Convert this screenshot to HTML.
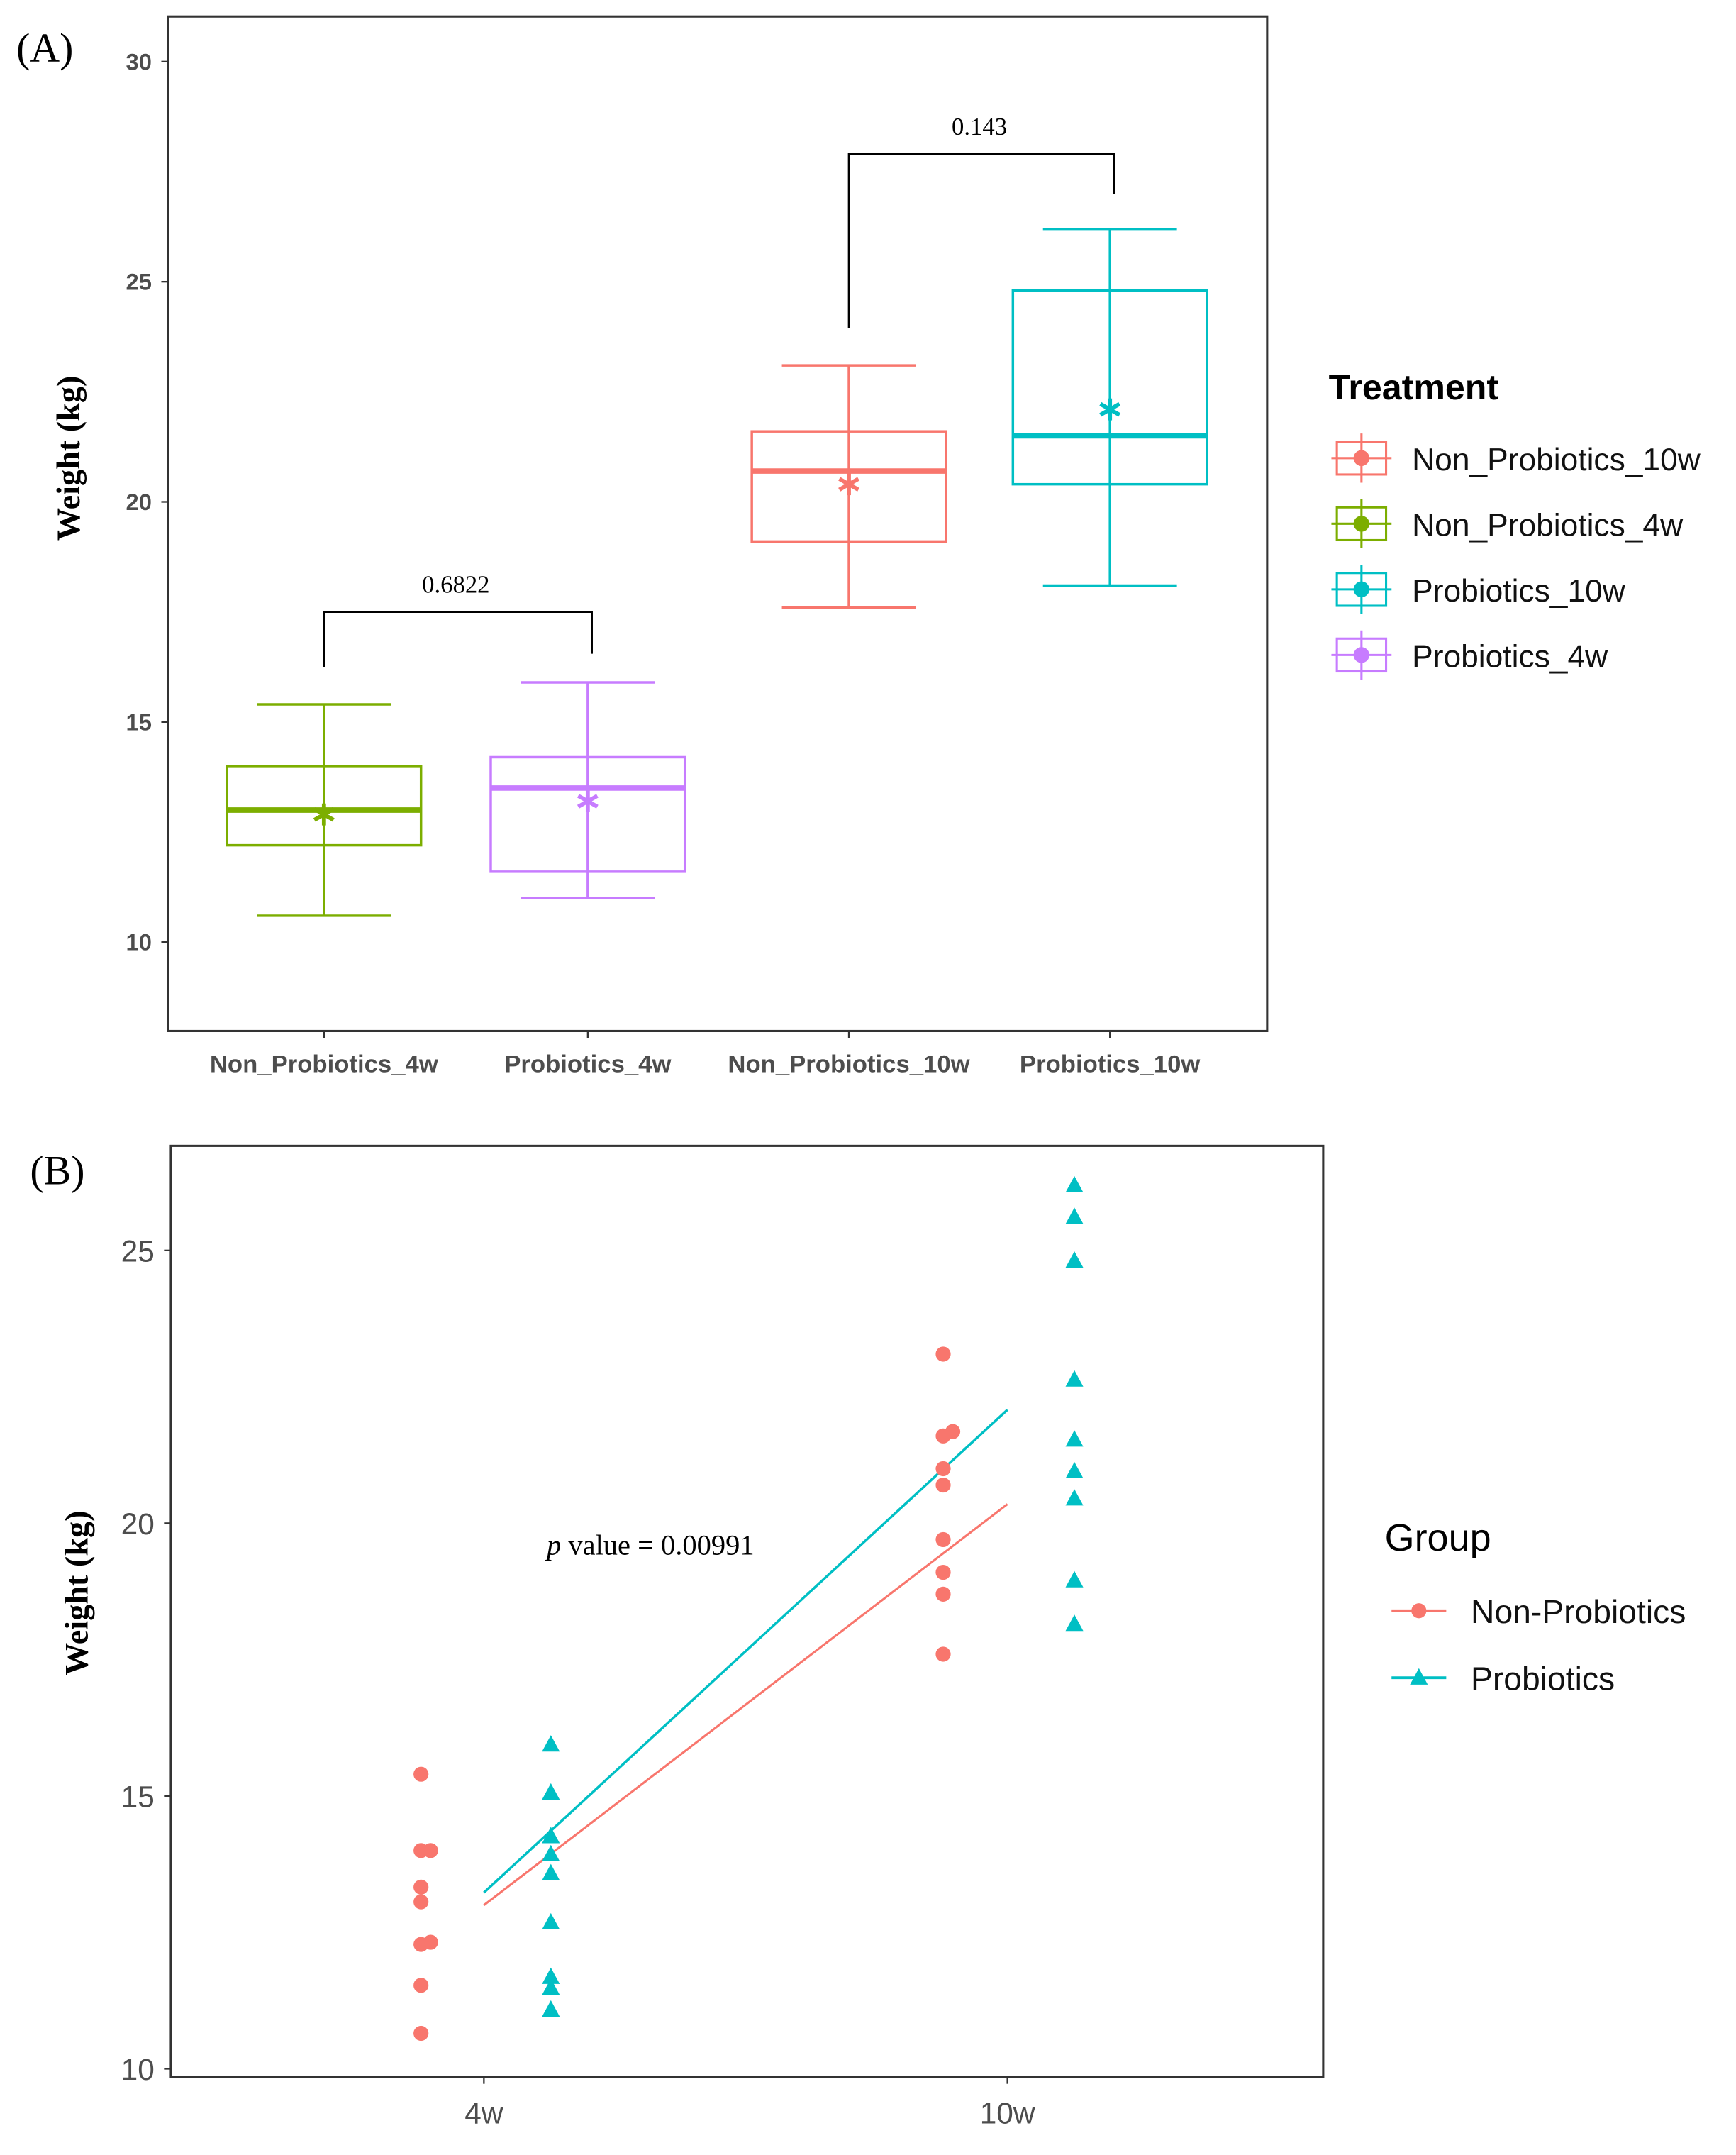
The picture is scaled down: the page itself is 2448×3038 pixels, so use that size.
<!DOCTYPE html>
<html><head><meta charset="utf-8"><style>
html,body{margin:0;padding:0;background:#fff;}
svg{display:block;}
</style></head><body>
<svg id="fig" xmlns="http://www.w3.org/2000/svg" width="2448" height="3038" viewBox="0 0 1270 1576" font-family="Liberation Sans, sans-serif">
<rect x="0" y="0" width="1270" height="1576" fill="#fff"/>
<g id="pa"></g>
<g id="pb"></g>
</svg>
<script>
// ---- Panel A data ----
const catsA = ["Non_Probiotics_4w","Probiotics_4w","Non_Probiotics_10w","Probiotics_10w"];
const colorsA = ["#7CAE00","#C77CFF","#F8766D","#00BFC4"];
const whiskLo = [10.6, 11.0, 17.6, 18.1];
const whiskHi = [15.4, 15.9, 23.1, 26.2];
const q1 = [12.2, 11.6, 19.1, 20.4];
const q3 = [14.0, 14.2, 21.6, 24.8];
const medians = [13.0, 13.5, 20.7, 21.5];
const means = [12.9, 13.2, 20.4, 22.1];
const ticksA = [10, 15, 20, 25, 30];
const brackets = [{a:0,b:1,top:17.5,la:16.24,lb:16.55,label:"0.6822"},{a:2,b:3,top:27.9,la:23.95,lb:27.0,label:"0.143"}];
const legendA = ["Non_Probiotics_10w","Non_Probiotics_4w","Probiotics_10w","Probiotics_4w"];
const legendAColors = ["#F8766D","#7CAE00","#00BFC4","#C77CFF"];

// ---- Panel B data ----
const timesB = ["4w","10w"];
const npVals4 = [15.4, 14.0, 14.0, 13.33, 13.06, 12.28, 12.32, 11.53, 10.65];
const npVals10 = [23.1, 21.6, 21.68, 21.0, 20.7, 19.7, 19.1, 18.7, 17.6];
const pVals4 = [15.94, 15.06, 14.26, 13.93, 13.58, 12.68, 11.68, 11.48, 11.08];
const pVals10 = [26.19, 25.61, 24.81, 22.63, 21.53, 20.95, 20.45, 18.95, 18.15];
const npJitter4 = [0,0,1,0,0,0,1,0,0];
const npJitter10 = [0,0,1,0,0,0,0,0,0];
const fitNP = [13.0, 20.35];
const fitP = [13.23, 22.08];
const ticksB = [10, 15, 20, 25];

const NS="http://www.w3.org/2000/svg";
function mk(parent, tag, attrs, text){
  const e=document.createElementNS(NS,tag);
  for(const k in attrs) e.setAttribute(k,attrs[k]);
  if(text!==undefined) e.textContent=text;
  parent.appendChild(e); return e;
}
// scales A
const yA = v => 689 - (v-10)*32.2;
const xA = i => [237,430,621,812][i];
// scales B
const yB = v => 1513 - (v-10)*39.9;
const xB = i => 354 + i*383;

const pa=document.getElementById('pa');
let el;
el=mk(pa,'text',{x:12,y:45,'font-family':'Liberation Serif, serif','font-size':30},'(A)');


el=mk(pa,'rect',{x:123,y:12,width:804,height:742,fill:'none',stroke:'#333','stroke-width':1.6});


ticksA.forEach(t=>{
  mk(pa,'line',{x1:118,x2:123,y1:yA(t),y2:yA(t),stroke:'#333','stroke-width':1.2});
  el=mk(pa,'text',{x:111,y:yA(t)+6,'text-anchor':'end','font-size':17,'font-weight':'bold',fill:'#4d4d4d'},String(t));
  
  
});
el=mk(pa,'text',{x:0,y:0,transform:'translate(58,335) rotate(-90)','text-anchor':'middle','font-family':'Liberation Serif, serif','font-size':24,'font-weight':'bold'},'Weight (kg)');


catsA.forEach((c,i)=>{
  const x=xA(i), col=colorsA[i];
  mk(pa,'line',{x1:x,x2:x,y1:754,y2:759,stroke:'#333','stroke-width':1.2});
  el=mk(pa,'text',{x:x,y:784,'text-anchor':'middle','font-size':18,'font-weight':'bold',fill:'#4d4d4d'},c);
  
  
  const g=mk(pa,'g',{stroke:col,fill:'none','stroke-width':1.8});
  
  
  mk(g,'line',{x1:x,x2:x,y1:yA(whiskLo[i]),y2:yA(whiskHi[i])});
  mk(g,'line',{x1:x-49,x2:x+49,y1:yA(whiskLo[i]),y2:yA(whiskLo[i])});
  mk(g,'line',{x1:x-49,x2:x+49,y1:yA(whiskHi[i]),y2:yA(whiskHi[i])});
  mk(g,'rect',{x:x-71,y:yA(q3[i]),width:142,height:yA(q1[i])-yA(q3[i]),fill:'#fff'});
  mk(g,'line',{x1:x-71,x2:x+71,y1:yA(medians[i]),y2:yA(medians[i]),'stroke-width':4});
  mk(g,'line',{x1:x,x2:x,y1:yA(q3[i]),y2:yA(q1[i])});
  const my=yA(means[i]);
  const st=mk(g,'g',{'stroke-width':3});
  
  
  mk(st,'line',{x1:x,x2:x,y1:my-8,y2:my+8});
  mk(st,'line',{x1:x-7,x2:x+7,y1:my-4,y2:my+4});
  mk(st,'line',{x1:x-7,x2:x+7,y1:my+4,y2:my-4});
});
brackets.forEach(b=>{
  const g=mk(pa,'g',{stroke:'#000','stroke-width':1.4,fill:'none'});
  
  
  mk(g,'polyline',{points:`${xA(b.a)},${yA(b.la)} ${xA(b.a)},${yA(b.top)} ${xA(b.b)+3},${yA(b.top)} ${xA(b.b)+3},${yA(b.lb)}`});
  el=mk(pa,'text',{x:(xA(b.a)+xA(b.b))/2,y:yA(b.top)-14,'text-anchor':'middle','font-family':'Liberation Serif, serif','font-size':18},b.label);
  
  
});
el=mk(pa,'text',{x:972,y:292,'font-size':26,'font-weight':'bold'},'Treatment');


legendA.forEach((n,i)=>{
  const y=335+i*48, col=legendAColors[i];
  const g=mk(pa,'g',{stroke:col,fill:'none','stroke-width':1.6});
  
  
  mk(g,'rect',{x:978,y:y-12,width:36,height:24});
  mk(g,'line',{x1:974,x2:1018,y1:y,y2:y});
  mk(g,'line',{x1:996,x2:996,y1:y-18,y2:y+18});
  mk(g,'circle',{cx:996,cy:y,r:5,fill:col});
  mk(pa,'text',{x:1033,y:y+9,'font-size':23,fill:'#111'},n);
});

// ---- Panel B ----
const pb=document.getElementById('pb');
el=mk(pb,'text',{x:22,y:866,'font-family':'Liberation Serif, serif','font-size':30},'(B)');


el=mk(pb,'rect',{x:125,y:838,width:843,height:681,fill:'none',stroke:'#333','stroke-width':1.6});


ticksB.forEach(t=>{
  mk(pb,'line',{x1:120,x2:125,y1:yB(t),y2:yB(t),stroke:'#333','stroke-width':1.2});
  el=mk(pb,'text',{x:113,y:yB(t)+8,'text-anchor':'end','font-size':22,fill:'#4d4d4d'},String(t));
  
  
});
timesB.forEach((t,i)=>{
  mk(pb,'line',{x1:xB(i),x2:xB(i),y1:1519,y2:1524,stroke:'#333','stroke-width':1.2});
  el=mk(pb,'text',{x:xB(i),y:1553,'text-anchor':'middle','font-size':22,fill:'#4d4d4d'},t);
  
  
});
el=mk(pb,'text',{x:0,y:0,transform:'translate(64,1165) rotate(-90)','text-anchor':'middle','font-family':'Liberation Serif, serif','font-size':24,'font-weight':'bold'},'Weight (kg)');


// fit lines
el=mk(pb,'line',{x1:xB(0),y1:yB(fitNP[0]),x2:xB(1),y2:yB(fitNP[1]),stroke:'#F8766D','stroke-width':1.6});


el=mk(pb,'line',{x1:xB(0),y1:yB(fitP[0]),x2:xB(1),y2:yB(fitP[1]),stroke:'#00BFC4','stroke-width':1.8});


function circ(x,y){
  const c=mk(pb,'circle',{cx:x,cy:y,r:5.5,fill:'#F8766D'});
  
  
}
function tri(x,y){
  const p=mk(pb,'polygon',{points:`${x},${y-7} ${x-6.5},${y+5} ${x+6.5},${y+5}`,fill:'#00BFC4'});
  
  
}
npVals4.forEach((v,i)=>circ(xB(0)-46+npJitter4[i]*7,yB(v)));
npVals10.forEach((v,i)=>circ(xB(1)-47+npJitter10[i]*7,yB(v)));
pVals4.forEach(v=>tri(xB(0)+49,yB(v)));
pVals10.forEach(v=>tri(xB(1)+49,yB(v)));
el=mk(pb,'text',{x:400,y:1137,'font-family':'Liberation Serif, serif','font-size':21});


mk(el,'tspan',{'font-style':'italic'},'p');
mk(el,'tspan',{},' value = 0.00991');
el=mk(pb,'text',{x:1013,y:1134,'font-size':28},'Group');


[["Non-Probiotics","#F8766D",1178],["Probiotics","#00BFC4",1227]].forEach((d,i)=>{
  const g=mk(pb,'g',{});
  
  
  mk(g,'line',{x1:1018,x2:1058,y1:d[2],y2:d[2],stroke:d[1],'stroke-width':2});
  if(i===0) mk(g,'circle',{cx:1038,cy:d[2],r:5.5,fill:d[1]});
  else mk(g,'polygon',{points:`1038,${d[2]-7} 1031.5,${d[2]+5} 1044.5,${d[2]+5}`,fill:d[1]});
  mk(g,'text',{x:1076,y:d[2]+9,'font-size':24,fill:'#111'},d[0]);
});
</script>
</body></html>
